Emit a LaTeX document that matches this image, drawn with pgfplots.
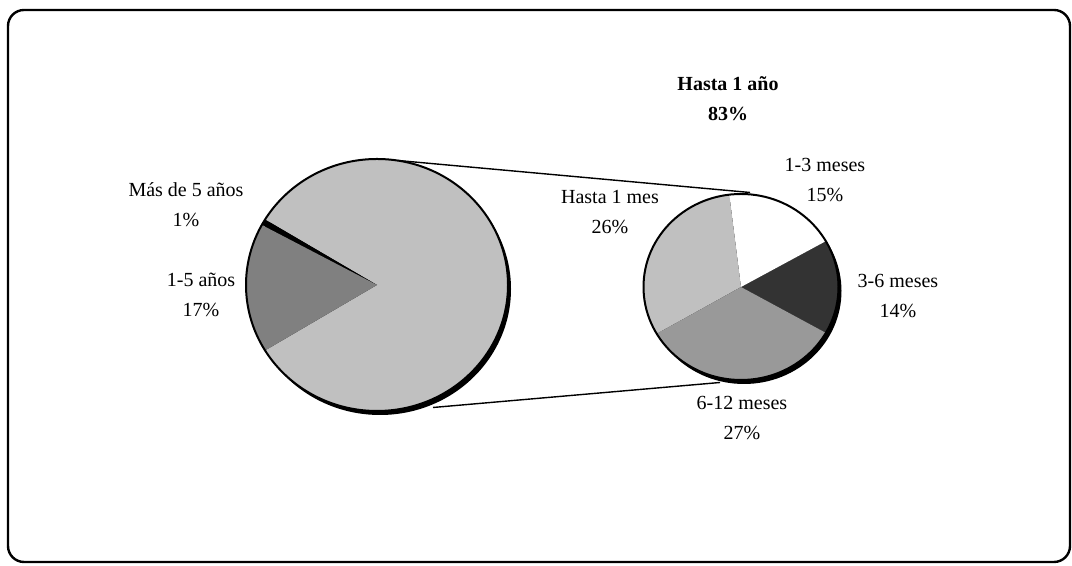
\documentclass[border=0pt]{standalone}
\usepackage{pgfplots}
\pgfplotsset{compat=1.18}
\usepackage{fontspec}
\setmainfont{Liberation Serif}
\definecolor{lgray}{HTML}{C0C0C0}
\definecolor{mgray}{HTML}{808080}
\definecolor{sgray}{HTML}{999999}
\definecolor{dgray}{HTML}{333333}
\newcommand\slice[7]{%
  \fill[#7] (axis cs:#1,#2) -- ++(#5:#3 and #4) arc[start angle=#5, end angle=#6, x radius=#3, y radius=#4] -- cycle;}
\tikzset{lbl/.style={font=\fontsize{10}{15}\selectfont, align=center, inner sep=0pt}}
\begin{document}
\begin{tikzpicture}
% big pie values (percent of total)
\def\vHasta{82.6}\def\vMas{0.8}\def\vUno{16.6}
% small pie values (percent of total)
\def\vMes{25.9}\def\vUnoTres{15.4}\def\vTresSeis{13.5}\def\vSeisDoce{27.5}
\pgfmathsetmacro\bA{\vHasta*1.8}
\pgfmathsetmacro\bB{\bA+\vMas*3.6}
\pgfmathsetmacro\bC{\bB+\vUno*3.6}
\pgfmathsetmacro\kk{360/(\vMes+\vUnoTres+\vTresSeis+\vSeisDoce)}
\pgfmathsetmacro\sO{-\vTresSeis*\kk/2}
\pgfmathsetmacro\sA{\sO+\vTresSeis*\kk}
\pgfmathsetmacro\sB{\sA+\vUnoTres*\kk}
\pgfmathsetmacro\sC{\sB+\vMes*\kk}
\pgfmathsetmacro\sD{\sO+360}
\begin{axis}[x=0.5pt, y=0.5pt, xmin=0, xmax=1072, ymin=0, ymax=566,
  hide axis, clip=false]
\path (axis cs:0,0) rectangle (axis cs:1072,566);
\draw[line width=1.2pt, rounded corners=8pt] (axis cs:8,556) rectangle (axis cs:1070,4);
% connectors
\draw[line width=0.7pt] (axis cs:398,405.5) -- (axis cs:750,373.5);
\draw[line width=0.7pt] (axis cs:433,158.5) -- (axis cs:720,183.5);
% big pie
\fill[black] (axis cs:380,277) ellipse[x radius=65.5pt, y radius=63pt];
\slice{377}{281}{65.5pt}{63pt}{-\bA}{\bA}{lgray}
\slice{377}{281}{65.5pt}{63pt}{\bA}{\bB}{black}
\slice{377}{281}{65.5pt}{63pt}{\bB}{\bC}{mgray}
\draw[line width=1pt] (axis cs:377,281) ellipse[x radius=65.5pt, y radius=63pt];
% small pie
\fill[black] (axis cs:744,275) ellipse[x radius=48.75pt, y radius=46.5pt];
\slice{741}{279}{48.75pt}{46.5pt}{\sO}{\sA}{dgray}
\slice{741}{279}{48.75pt}{46.5pt}{\sA}{\sB}{white}
\slice{741}{279}{48.75pt}{46.5pt}{\sB}{\sC}{lgray}
\slice{741}{279}{48.75pt}{46.5pt}{\sC}{\sD}{sgray}
\draw[line width=1pt] (axis cs:741,279) ellipse[x radius=48.75pt, y radius=46.5pt];
% labels
\node[lbl] at (axis cs:728,467.7) {\textbf{Hasta 1 año}\\\textbf{83\%}};
\node[lbl] at (axis cs:825,385.5) {1-3 meses\\15\%};
\node[lbl] at (axis cs:610,354.3) {Hasta 1 mes\\26\%};
\node[lbl] at (axis cs:898,270) {3-6 meses\\14\%};
\node[lbl] at (axis cs:742,148.3) {6-12 meses\\27\%};
\node[lbl] at (axis cs:186,361) {Más de 5 años\\1\%};
\node[lbl] at (axis cs:201,271) {1-5 años\\17\%};
\end{axis}
\end{tikzpicture}
\end{document}
